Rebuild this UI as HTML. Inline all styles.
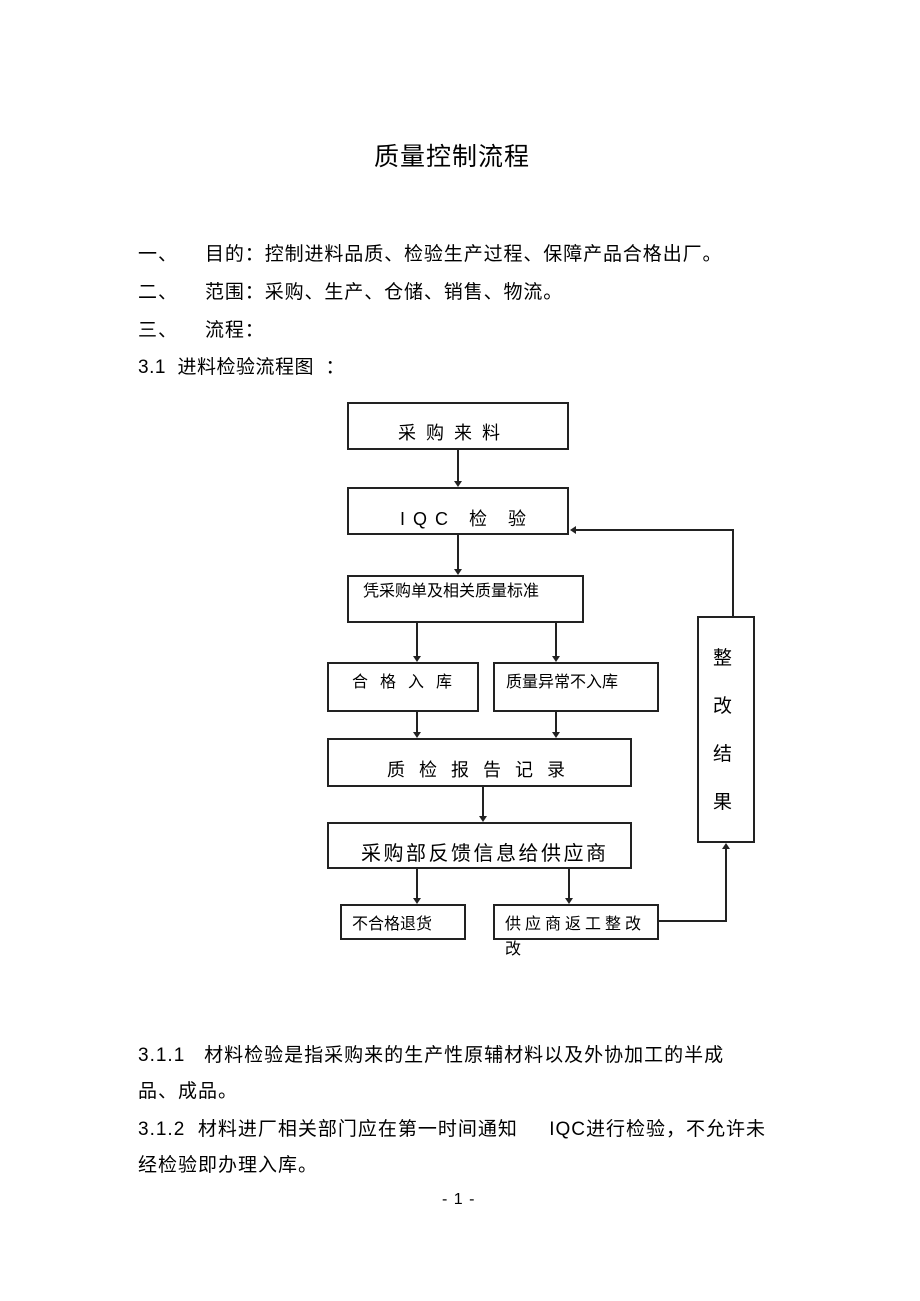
<!DOCTYPE html>
<html><head><meta charset="utf-8"><style>
body{margin:0;background:#fff;}
.p{position:relative;width:920px;height:1301px;font-family:"Liberation Sans","Noto Sans CJK SC",sans-serif;color:#000;}
.t{position:absolute;white-space:nowrap;font-size:19px;line-height:1;letter-spacing:1px;}
.b{position:absolute;border:2px solid #222;box-sizing:border-box;background:#fff;}
.l{position:absolute;font-size:18px;white-space:nowrap;line-height:1;}
</style></head><body><div class="p">
<div class="t" style="left:374px;top:145px;font-size:25px;letter-spacing:1px;">质量控制流程</div>
<div class="t" style="left:138px;top:245px;">一、</div><div class="t" style="left:205px;top:245px;letter-spacing:0.9px;">目的：控制进料品质、检验生产过程、保障产品合格出厂。</div>
<div class="t" style="left:138px;top:283px;">二、</div><div class="t" style="left:205px;top:283px;letter-spacing:0.9px;">范围：采购、生产、仓储、销售、物流。</div>
<div class="t" style="left:138px;top:321px;">三、</div><div class="t" style="left:205px;top:321px;letter-spacing:0.9px;">流程：</div>
<div class="t" style="left:138px;top:358px;letter-spacing:0.5px;">3.1 &nbsp;进料检验流程图 &nbsp;：</div>

<svg style="position:absolute;left:0;top:0" width="920" height="1301">
<g stroke="#222" stroke-width="2" fill="none">
<line x1="458" y1="450" x2="458" y2="482"/>
<line x1="458" y1="535" x2="458" y2="570"/>
<line x1="417" y1="623" x2="417" y2="657"/>
<line x1="556" y1="623" x2="556" y2="657"/>
<line x1="417" y1="712" x2="417" y2="733"/>
<line x1="556" y1="712" x2="556" y2="733"/>
<line x1="483" y1="787" x2="483" y2="817"/>
<line x1="417" y1="869" x2="417" y2="899"/>
<line x1="569" y1="869" x2="569" y2="899"/>
<polyline points="659,921 726,921 726,848"/>
<polyline points="733,616 733,530 575,530"/>
</g>
<g fill="#222">
<polygon points="454,481 462,481 458,487"/>
<polygon points="454,569 462,569 458,575"/>
<polygon points="413,656 421,656 417,662"/>
<polygon points="552,656 560,656 556,662"/>
<polygon points="413,732 421,732 417,738"/>
<polygon points="552,732 560,732 556,738"/>
<polygon points="479,816 487,816 483,822"/>
<polygon points="413,898 421,898 417,904"/>
<polygon points="565,898 573,898 569,904"/>
<polygon points="722,849 730,849 726,843"/>
<polygon points="576,526 576,534 570,530"/>
</g></svg>

<div class="b" style="left:347px;top:402px;width:222px;height:48px;"></div>
<div class="l" style="left:398px;top:424px;letter-spacing:10px;">采购来料</div>
<div class="b" style="left:347px;top:487px;width:222px;height:48px;"></div>
<div class="l" style="left:400px;top:510px;letter-spacing:8px;">IQC 检 验</div>
<div class="b" style="left:347px;top:575px;width:237px;height:48px;"></div>
<div class="l" style="left:363px;top:584px;font-size:16px;">凭采购单及相关质量标准</div>
<div class="b" style="left:327px;top:662px;width:152px;height:50px;"></div>
<div class="l" style="left:352px;top:675px;font-size:16px;letter-spacing:12px;">合格入库</div>
<div class="b" style="left:493px;top:662px;width:166px;height:50px;"></div>
<div class="l" style="left:506px;top:675px;font-size:16px;">质量异常不入库</div>
<div class="b" style="left:327px;top:738px;width:305px;height:49px;"></div>
<div class="l" style="left:387px;top:761px;letter-spacing:14px;">质检报告记录</div>
<div class="b" style="left:327px;top:822px;width:305px;height:47px;"></div>
<div class="l" style="left:361px;top:844px;font-size:20px;letter-spacing:2.5px;">采购部反馈信息给供应商</div>
<div class="b" style="left:340px;top:904px;width:126px;height:36px;"></div>
<div class="l" style="left:352px;top:917px;font-size:16px;">不合格退货</div>
<div class="b" style="left:493px;top:904px;width:166px;height:36px;"></div>
<div class="l" style="left:505px;top:917px;font-size:16px;letter-spacing:4px;">供应商返工整改</div>
<div class="l" style="left:505px;top:942px;font-size:16px;">改</div>
<div class="b" style="left:697px;top:616px;width:58px;height:227px;"></div>
<div class="l" style="left:713px;top:635px;line-height:48px;white-space:normal;width:20px;font-size:19px;">整改结果</div>

<div class="t" style="left:138px;top:1046px;letter-spacing:1px;">3.1.1 &nbsp;&nbsp;材料检验是指采购来的生产性原辅材料以及外协加工的半成</div>
<div class="t" style="left:138px;top:1082px;letter-spacing:1px;">品、成品。</div>
<div class="t" style="left:138px;top:1120px;letter-spacing:1px;">3.1.2 &nbsp;材料进厂相关部门应在第一时间通知 &nbsp;&nbsp;&nbsp;&nbsp;IQC进行检验，不允许未</div>
<div class="t" style="left:138px;top:1156px;letter-spacing:1px;">经检验即办理入库。</div>
<div class="t" style="left:442px;top:1192px;font-size:16px;">- 1 -</div>
</div></body></html>
